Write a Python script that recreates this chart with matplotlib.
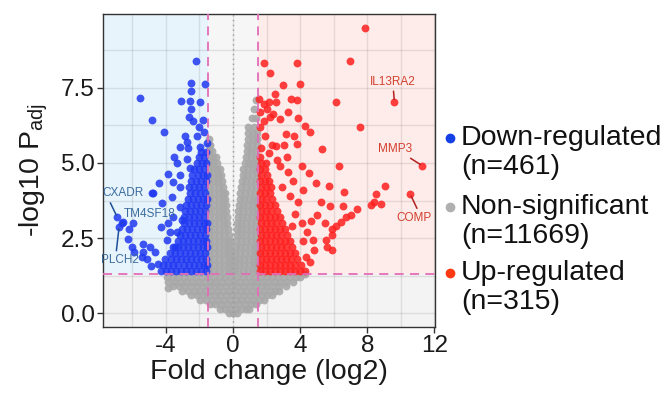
import numpy as np
import matplotlib.pyplot as plt
from matplotlib.patches import Rectangle
from matplotlib.lines import Line2D
from matplotlib.ticker import MultipleLocator

plt.rcParams['font.family'] = ['Liberation Sans', 'DejaVu Sans']
plt.rcParams['mathtext.fontset'] = 'custom'
plt.rcParams['mathtext.rm'] = 'Liberation Sans'

# thresholds
fc_cut = 1.5
p_cut = 1.301

group_names = ['Down-regulated', 'Non-significant', 'Up-regulated']
group_counts = [461, 11669, 315]

# labelled genes: name, x, y (point), label x, label y
down_genes = [('CXADR', -6.91, 3.21, -6.55, 3.99),
              ('TM4SF18', -6.62, 3.00, -4.99, 3.32),
              ('PLCH2', -6.79, 2.88, -6.75, 1.77)]
up_genes = [('IL13RA2', 9.62, 7.04, 9.55, 7.70),
            ('MMP3', 11.28, 4.91, 9.68, 5.46),
            ('COMP', 10.57, 3.96, 10.81, 3.18)]

# down-regulated, scattered points
down_pts = [(-2.2, 8.4), (-1.66, 7.62), (-2.51, 7.66), (-2.51, 7.38), (-5.55, 7.16),
            (-3.1, 7.07), (-2.56, 7.07), (-1.96, 7.01), (-2.5, 6.79), (-4.81, 6.43),
            (-2.6, 6.52), (-2.36, 6.38), (-1.8, 6.43), (-2.0, 6.19), (-4.1, 6.04),
            (-1.7, 6.04), (-2.86, 5.88), (-2.16, 5.88), (-2.76, 5.71), (-3.16, 5.54),
            (-2.66, 5.49), (-1.96, 5.54), (-1.56, 5.66), (-3.51, 5.19), (-3.35, 4.99),
            (-2.76, 5.12), (-3.86, 4.63), (-3.16, 4.6), (-2.56, 4.82), (-4.4, 4.34),
            (-3.56, 4.38), (-6.55, 3.04), (-6.19, 2.82), (-5.95, 2.99), (-6.25, 2.49),
            (-6.05, 2.21), (-5.89, 2.04), (-5.35, 2.32), (-5.45, 1.88), (-4.91, 1.57),
            (-5.35, 2.04), (-4.75, 3.99), (-4.25, 3.66), (-4.31, 2.88), (-4.95, 2.21),
            (-4.65, 2.04), (-5.15, 1.82), (-4.46, 1.66), (-3.95, 2.43), (-3.75, 2.71),
            (-3.35, 2.71), (-3.45, 2.21), (-3.86, 2.99), (-3.56, 3.21), (-3.16, 3.54),
            (-3.06, 3.1), (-3.65, 3.88), (-3.16, 4.21), (-4.85, 3.99)]
# down-regulated, dense part: (y, [x...])
down_rows = [
    (1.4, [-4.3, -4.0, -3.7, -3.4, -3.1, -2.8, -2.5, -2.2, -1.9, -1.6]),
    (1.6, [-4.15, -3.85, -3.55, -3.25, -2.95, -2.65, -2.35, -2.05, -1.75, -1.55]),
    (1.8, [-4.05, -3.7, -3.4, -3.1, -2.8, -2.5, -2.2, -1.9, -1.6]),
    (2.0, [-3.75, -3.45, -3.15, -2.85, -2.55, -2.25, -1.95, -1.65]),
    (2.2, [-3.6, -3.3, -3.0, -2.7, -2.4, -2.1, -1.8, -1.55]),
    (2.4, [-3.3, -3.0, -2.7, -2.4, -2.1, -1.8, -1.6]),
    (2.6, [-3.15, -2.85, -2.55, -2.25, -1.95, -1.65]),
    (2.8, [-3.05, -2.75, -2.45, -2.15, -1.85, -1.6]),
    (3.0, [-2.95, -2.65, -2.35, -2.05, -1.75, -1.55]),
    (3.2, [-2.9, -2.6, -2.3, -2.0, -1.7]),
    (3.4, [-2.85, -2.55, -2.25, -1.95, -1.65]),
    (3.6, [-2.8, -2.5, -2.2, -1.9, -1.6]),
    (3.8, [-2.7, -2.4, -2.1, -1.8, -1.55]),
    (4.0, [-2.55, -2.25, -1.95, -1.65]),
    (4.2, [-2.6, -2.3, -2.0, -1.7]),
    (4.4, [-2.5, -2.2, -1.9, -1.6]),
    (4.6, [-2.45, -2.1, -1.8, -1.55]),
    (4.8, [-2.3, -2.0, -1.7]),
    (5.0, [-2.15, -1.85, -1.6]),
    (5.2, [-2.05, -1.75]),
    (5.35, [-1.9, -1.6]),
]

# up-regulated, scattered points
up_pts = [(7.88, 9.5), (6.97, 8.4), (6.14, 7.04), (7.57, 6.18), (1.87, 8.33),
          (3.79, 8.33), (2.21, 7.99), (2.99, 7.58), (3.97, 7.63), (2.49, 7.3),
          (1.53, 7.12), (1.83, 6.97), (2.17, 7.01), (2.57, 7.04), (3.45, 7.13),
          (3.81, 7.08), (2.37, 6.62), (2.23, 6.54), (1.87, 6.41), (2.81, 6.45),
          (3.27, 6.69), (3.85, 6.51), (4.27, 6.24), (4.61, 6.04), (3.15, 5.97),
          (3.61, 5.91), (3.79, 5.63), (3.05, 5.61), (2.57, 5.57), (5.29, 5.47),
          (1.69, 5.49), (3.23, 5.21), (2.13, 5.33), (6.32, 4.9), (4.13, 4.9),
          (4.53, 4.66), (4.93, 4.32), (5.72, 4.23), (6.59, 4.03), (5.27, 3.69),
          (5.77, 3.58), (6.56, 3.58), (8.5, 3.97), (8.22, 3.59), (7.42, 3.47),
          (7.02, 3.27), (6.72, 3.19), (6.43, 3.04), (6.13, 2.9), (5.93, 2.8),
          (5.49, 2.99), (5.03, 3.27), (4.63, 3.08), (5.93, 2.6), (5.53, 2.43),
          (5.59, 2.21), (5.93, 2.1), (4.79, 2.43), (4.83, 2.1), (4.33, 1.88),
          (9.08, 4.24), (8.38, 3.69), (8.82, 3.63), (2.8, 4.9), (3.3, 4.7),
          (3.6, 4.4), (2.9, 4.2), (3.4, 3.9), (3.9, 3.7), (4.2, 4.1), (3.7, 3.3),
          (4.1, 3.0), (4.4, 2.7), (3.5, 2.9), (4.2, 2.4), (4.6, 1.7), (2.6, 5.1),
          (2.3, 5.6), (1.9, 5.9), (1.6, 6.2), (2.0, 6.8), (1.6, 6.7)]
up_rows = [
    (1.4, [1.6, 1.9, 2.2, 2.5, 2.8, 3.1, 3.4, 3.7, 4.0, 4.3]),
    (1.6, [1.6, 1.9, 2.2, 2.5, 2.8, 3.1, 3.4, 3.7, 4.05]),
    (1.8, [1.65, 1.95, 2.25, 2.55, 2.85, 3.15, 3.45, 3.8]),
    (2.0, [1.6, 1.9, 2.2, 2.5, 2.8, 3.1, 3.4, 3.7]),
    (2.2, [1.65, 1.95, 2.25, 2.55, 2.85, 3.15, 3.5]),
    (2.4, [1.6, 1.9, 2.2, 2.5, 2.8, 3.1, 3.4]),
    (2.6, [1.65, 1.95, 2.25, 2.55, 2.85, 3.2]),
    (2.8, [1.6, 1.9, 2.2, 2.5, 2.8, 3.1]),
    (3.0, [1.65, 1.95, 2.25, 2.55, 2.9]),
    (3.2, [1.6, 1.9, 2.2, 2.5, 2.8]),
    (3.4, [1.65, 1.95, 2.25, 2.6]),
    (3.6, [1.6, 1.9, 2.2, 2.5]),
    (3.8, [1.65, 1.95, 2.3]),
    (4.0, [1.6, 1.9, 2.2]),
    (4.2, [1.65, 1.95, 2.25]),
    (4.4, [1.6, 1.9, 2.15]),
    (4.6, [1.65, 2.0]),
    (4.8, [1.6, 1.9]),
    (5.0, [1.65, 1.95]),
    (5.2, [1.6]),
]

# non-significant cloud
ns_pts = [(-3.85, 0.83), (4.3, 1.3)]
ns_rows = [
    # below the p cut-off
    (0.0, [-0.25, 0.0, 0.25]),
    (0.15, [-0.75, -0.45, -0.15, 0.15, 0.45, 0.75, 0.95]),
    (0.3, [-1.35, -1.05, -0.7, -0.35, 0.0, 0.35, 0.7, 1.05, 1.35]),
    (0.45, [-1.95, -1.6, -1.25, -0.9, -0.55, -0.2, 0.15, 0.5, 0.85, 1.2, 1.55, 1.85]),
    (0.6, [-2.5, -2.15, -1.8, -1.45, -1.1, -0.75, -0.4, -0.05, 0.3, 0.65, 1.0, 1.35,
           1.7, 2.05, 2.3]),
    (0.75, [-3.05, -2.7, -2.35, -2.0, -1.65, -1.3, -0.95, -0.6, -0.25, 0.1, 0.45, 0.8,
            1.15, 1.5, 1.85, 2.2, 2.5, 2.75]),
    (0.9, [-3.55, -3.2, -2.85, -2.5, -2.15, -1.8, -1.45, -1.1, -0.75, -0.4, -0.05, 0.3,
           0.65, 1.0, 1.35, 1.7, 2.05, 2.4, 2.75, 3.15]),
    (1.05, [-3.85, -3.5, -3.15, -2.8, -2.45, -2.1, -1.75, -1.4, -1.05, -0.7, -0.35, 0.0,
            0.35, 0.7, 1.05, 1.4, 1.75, 2.1, 2.45, 2.8, 3.15, 3.55]),
    (1.2, [-3.95, -3.6, -3.25, -2.9, -2.55, -2.2, -1.85, -1.5, -1.15, -0.8, -0.45, -0.1,
           0.25, 0.6, 0.95, 1.3, 1.65, 2.0, 2.35, 2.7, 3.05, 3.4, 3.75, 4.0]),
    # between the fold-change cut-offs
    (1.4, [-1.45, -1.15, -0.85, -0.55, -0.25, -0.08, 0.08, 0.3, 0.6, 0.9, 1.2, 1.45]),
    (1.6, [-1.45, -1.15, -0.85, -0.55, -0.25, -0.1, 0.1, 0.35, 0.65, 0.95, 1.25, 1.45]),
    (1.8, [-1.45, -1.15, -0.85, -0.55, -0.25, -0.12, 0.12, 0.35, 0.65, 0.95, 1.25, 1.45]),
    (2.0, [-1.45, -1.15, -0.85, -0.55, -0.28, -0.14, 0.14, 0.4, 0.7, 1.0, 1.3, 1.45]),
    (2.2, [-1.45, -1.15, -0.85, -0.55, -0.3, -0.16, 0.16, 0.4, 0.7, 1.0, 1.3, 1.45]),
    (2.4, [-1.45, -1.15, -0.85, -0.55, -0.3, -0.2, 0.19, 0.45, 0.75, 1.05, 1.35]),
    (2.6, [-1.45, -1.15, -0.85, -0.55, -0.25, 0.21, 0.45, 0.75, 1.05, 1.35]),
    (2.8, [-1.45, -1.15, -0.85, -0.55, -0.3, 0.23, 0.5, 0.8, 1.1, 1.4]),
    (3.0, [-1.45, -1.15, -0.85, -0.55, -0.33, 0.25, 0.5, 0.8, 1.1, 1.4]),
    (3.2, [-1.45, -1.15, -0.85, -0.6, -0.36, 0.28, 0.55, 0.85, 1.15, 1.42]),
    (3.4, [-1.45, -1.15, -0.85, -0.6, -0.4, 0.32, 0.6, 0.9, 1.2, 1.45]),
    (3.6, [-1.45, -1.15, -0.85, -0.6, -0.42, 0.35, 0.6, 0.9, 1.2, 1.45]),
    (3.8, [-1.45, -1.15, -0.85, -0.6, -0.45, 0.4, 0.65, 0.95, 1.25, 1.45]),
    (4.0, [-1.45, -1.15, -0.85, -0.6, -0.47, 0.44, 0.7, 1.0, 1.3]),
    (4.2, [-1.45, -1.15, -0.85, -0.6, 0.48, 0.75, 1.05, 1.35]),
    (4.4, [-1.45, -1.15, -0.9, -0.65, 0.52, 0.8, 1.1, 1.4]),
    (4.6, [-1.45, -1.15, -0.9, -0.7, 0.57, 0.85, 1.15, 1.42]),
    (4.8, [-1.45, -1.2, -0.95, -0.78, 0.62, 0.9, 1.2, 1.45]),
    (5.0, [-1.45, -1.2, -0.95, 0.7, 0.95, 1.2, 1.45]),
    (5.2, [-1.45, -1.2, -1.0, 0.78, 1.05, 1.35]),
    (5.4, [-1.45, -1.25, 0.84, 1.1, 1.4]),
    (5.6, [-1.45, -1.35, 0.86, 1.15, 1.42]),
    (5.8, [-1.42, 0.88, 1.2, 1.45]),
    (6.0, [0.9, 1.2, 1.45]),
    (6.2, [0.92, 1.25]),
    (6.5, [1.14, 1.4]),
    (6.8, [1.25]),
    (7.1, [1.35]),
]


def collect(pts, rows):
    xs = [p[0] for p in pts]
    ys = [p[1] for p in pts]
    for y, row in rows:
        xs += row
        ys += [y] * len(row)
    return np.array(xs), np.array(ys)


down_x, down_y = collect(down_pts + [(g[1], g[2]) for g in down_genes], down_rows)
up_x, up_y = collect(up_pts + [(g[1], g[2]) for g in up_genes], up_rows)
ns_x, ns_y = collect(ns_pts, ns_rows)

col_down = '#1f38f2'
col_ns = '#a8a8a8'
col_up = '#ff1f1f'

fig = plt.figure(figsize=(6.71, 4.01), dpi=100)
ax = fig.add_axes([0.1535, 0.1845, 0.495, 0.7806])

x_lo, x_hi = -7.75, 12.05
y_lo, y_hi = -0.45, 9.95
ax.set_facecolor('#f3f3f3')
ax.add_patch(Rectangle((x_lo - 5, p_cut), (x_lo - 5) * -1 - fc_cut, 20,
                       facecolor='#e8f4fc', edgecolor='none', zorder=0.2))
ax.add_patch(Rectangle((fc_cut, p_cut), 30, 20,
                       facecolor='#fdecea', edgecolor='none', zorder=0.2))
ax.add_patch(Rectangle((-fc_cut, p_cut), 2 * fc_cut, 20,
                       facecolor='#f6f6f6', edgecolor='none', zorder=0.2))

ax.set_axisbelow(True)
ax.xaxis.set_major_locator(MultipleLocator(4))
ax.xaxis.set_minor_locator(MultipleLocator(2))
ax.yaxis.set_major_locator(MultipleLocator(2.5))
ax.yaxis.set_minor_locator(MultipleLocator(1.25))
ax.grid(which='both', color='black', alpha=0.09, lw=1.0)

ax.scatter(ns_x, ns_y, s=32, color=col_ns, alpha=0.9, lw=0, zorder=2)
ax.scatter(down_x, down_y, s=32, color=col_down, alpha=0.85, lw=0, zorder=2.1)
ax.scatter(up_x, up_y, s=32, color=col_up, alpha=0.85, lw=0, zorder=2.1)

ax.axhline(p_cut, color='#e36db7', lw=1.3, ls=(0, (5, 3.5)), zorder=3)
ax.axvline(-fc_cut, color='#e36db7', lw=1.3, ls=(0, (5, 3.5)), zorder=3)
ax.axvline(fc_cut, color='#e36db7', lw=1.3, ls=(0, (5, 3.5)), zorder=3)
ax.axvline(0, color='#999999', lw=1.0, ls=(0, (1, 2.5)), zorder=3)

rel = {'CXADR': (0.15, 0), 'TM4SF18': (0, 0.3), 'PLCH2': (0.4, 1),
       'IL13RA2': (0.5, 0), 'MMP3': (0.8, 0), 'COMP': (0.62, 1)}
for genes, tcol, lcol in [(down_genes, '#3a6c9e', '#1f4f96'),
                          (up_genes, '#d2402e', '#b42020')]:
    for name, px, py, tx, ty in genes:
        ax.annotate(name, xy=(px, py), xytext=(tx, ty), ha='center', va='center',
                    fontsize=8.5, color=tcol, zorder=4,
                    arrowprops=dict(arrowstyle='-', color=lcol, lw=1.1,
                                    shrinkA=0.5, shrinkB=1.5, relpos=rel[name]))

ax.set_xlim(x_lo, x_hi)
ax.set_ylim(y_lo, y_hi)
for sp in ax.spines.values():
    sp.set_color('#333333')
    sp.set_linewidth(1.0)
ax.tick_params(which='major', length=4, width=1, color='#333333',
               labelsize=17.5, labelcolor='#1a1a1a', pad=2)
ax.tick_params(which='minor', length=0)
ax.set_yticks([0, 2.5, 5.0, 7.5])
ax.set_yticklabels(['0.0', '2.5', '5.0', '7.5'])
ax.set_xticks([-4, 0, 4, 8, 12])
ax.set_xticklabels(['-4', '0', '4', '8', '12'])
ax.set_xlabel('Fold change (log2)', fontsize=20.5, color='#1a1a1a', labelpad=1)
ax.set_ylabel('-log10 P$_{\\mathrm{adj}}$', fontsize=20.5, color='#1a1a1a', labelpad=8)

# legend drawn by hand so the dot sits on the first text line
leg_cols = ['#1540e6', '#b0b0b0', '#ff3a12']
leg_y = [138, 207, 273]
for name, n, c, yp in zip(group_names, group_counts, leg_cols, leg_y):
    yf = 1 - yp / 401
    fig.add_artist(Line2D([450 / 671], [yf], marker='o', ms=6, color=c, lw=0,
                          transform=fig.transFigure))
    fig.text(461 / 671, yf, name, fontsize=20.5, va='center', ha='left', color='#111111')
    fig.text(461 / 671, yf - 29 / 401, f'(n={n})', fontsize=20.5, va='center',
             ha='left', color='#111111')

fig.savefig('out.png', dpi=100)
